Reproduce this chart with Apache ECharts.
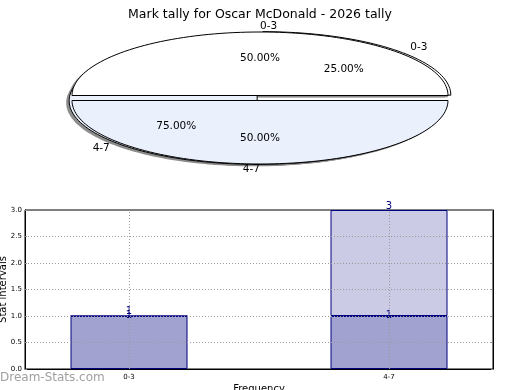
<!DOCTYPE html>
<html>
<head>
<meta charset="utf-8">
<script src="https://cdn.jsdelivr.net/npm/echarts@6/dist/echarts.min.js"></script>
<style>
html,body{margin:0;padding:0;background:#fff;}
#chart{width:520px;height:390px;}
</style>
</head>
<body>
<div id="chart"></div>
<script>
// ---- data ----
const titleText = 'Mark tally for Oscar McDonald - 2026 tally';
const categories = ['0-3', '4-7'];
const seriesLow = [1, 1];      // first stacked series
const seriesHigh = [0, 2];     // second stacked series
const totals = [1, 3];         // stack totals (labels on top)
const yTicks = [0.5, 1.0, 1.5, 2.0, 2.5];
const pieInner = seriesLow;    // pie drawn on top (50% / 50%)
const pieOuter = totals;       // pie drawn underneath (25% / 75%)
const sliceColors = ['#ffffff', '#eaf0fc'];

// bar data: [value, category index] on a numeric x axis
const catIdx = categories.map((c, i) => i);
const lowPairs = seriesLow.map((v, i) => [v, i]);
const highPairs = seriesHigh.map((v, i) => [v, i]);

// ---- pie slices derived from the data ----
function buildSlices(values, pieId) {
  const sum = values.reduce((a, b) => a + b, 0);
  let acc = 0;
  return values.map((v, i) => {
    const s = acc / sum; acc += v;
    return [pieId, i, s, acc / sum, v / sum * 100];
  });
}
const pieData = buildSlices(pieOuter, 0).concat(buildSlices(pieInner, 1));

const CX = 260, CY = 98, RX = 188, RY = 63.5;
const EXPLODE = [4, 2.5];

function sector(cx, cy, a0, a1) {
  const pts = [[cx, cy]];
  const n = Math.max(8, Math.ceil((a1 - a0) / (Math.PI / 90)));
  for (let k = 0; k <= n; k++) {
    const a = a0 + (a1 - a0) * k / n;
    pts.push([cx + RX * Math.cos(a), cy - RY * Math.sin(a)]);
  }
  return pts;
}

function geom(api) {
  const pie = api.value(0), idx = api.value(1);
  const a0 = api.value(2) * 2 * Math.PI, a1 = api.value(3) * 2 * Math.PI;
  const mid = (a0 + a1) / 2;
  const e = EXPLODE[pie];
  const cx = CX + e * Math.cos(mid), cy = CY - e * Math.sin(mid);
  return {pie, idx, a0, a1, mid, cx, cy, pct: api.value(4)};
}

function renderShadow(params, api) {
  const g = geom(api);
  return {
    type: 'polygon',
    shape: {points: sector(g.cx - 3, g.cy + 2, g.a0, g.a1)},
    style: {fill: '#8c8c8c', stroke: null}
  };
}

function renderSlice(params, api) {
  const g = geom(api);
  return {
    type: 'polygon',
    shape: {points: sector(g.cx, g.cy, g.a0, g.a1)},
    style: {fill: sliceColors[g.idx], stroke: '#000', lineWidth: 1}
  };
}

function renderLabels(params, api) {
  const g = geom(api);
  const cosm = Math.cos(g.mid), sinm = Math.sin(g.mid);
  const lx = CX + 1.13 * RX * cosm, ly = CY - 1.13 * RY * sinm;
  const px = CX + 0.63 * RX * cosm, py = CY - 0.63 * RY * sinm;
  return {
    type: 'group',
    children: [
      {
        type: 'text',
        style: {
          text: categories[g.idx], x: lx, y: ly,
          align: cosm > 0 ? 'left' : 'right', verticalAlign: 'middle',
          font: '10.5px "DejaVu Sans"', fill: '#000'
        }
      },
      {
        type: 'text',
        style: {
          text: g.pct.toFixed(2) + '%', x: px, y: py,
          align: 'center', verticalAlign: 'middle',
          font: '10.5px "DejaVu Sans"', fill: '#000'
        }
      }
    ]
  };
}

const gridLineStyle = {type: [1, 2], color: '#9a9a9a', width: 1};

const chart = echarts.init(document.getElementById('chart'), null, {renderer: 'canvas'});
chart.setOption({
  backgroundColor: '#ffffff',
  animation: false,
  textStyle: {fontFamily: 'DejaVu Sans'},
  title: {
    text: titleText, left: 'center', top: 3,
    textStyle: {fontSize: 12.5, fontWeight: 'normal', color: '#000', fontFamily: 'DejaVu Sans'}
  },
  graphic: [{
    type: 'text', left: 0, top: 372,
    style: {text: 'Dream-Stats.com', font: '12px "DejaVu Sans"', fill: '#a0a0a0'}
  }],
  grid: {left: 25, right: 27, top: 210, bottom: 21, show: true, borderColor: '#000', borderWidth: 1,
         containLabel: false, outerBoundsMode: 'none'},
  xAxis: {
    type: 'value', min: -0.4, max: 1.4,
    name: 'Frequency', nameLocation: 'middle', nameGap: 15, nameMoveOverlap: false,
    nameTextStyle: {fontSize: 10, color: '#000'},
    axisLine: {show: true, onZero: false, lineStyle: {color: '#000'}},
    axisTick: {show: true, inside: true, length: 3, lineStyle: {color: '#888'}, customValues: catIdx},
    axisLabel: {fontSize: 7, color: '#000', margin: 5, customValues: catIdx,
                formatter: v => categories[Math.round(v)]},
    splitLine: {show: false}
  },
  yAxis: [{
    type: 'value', min: 0, max: 3, interval: 0.5,
    name: 'Stat intervals', nameLocation: 'middle', nameGap: 17, nameMoveOverlap: false,
    nameTextStyle: {fontSize: 10, color: '#000'},
    axisLine: {show: true, onZero: false, lineStyle: {color: '#000'}},
    axisTick: {show: true, inside: true, length: 2, lineStyle: {color: '#888'}},
    axisLabel: {fontSize: 7, color: '#000', margin: 3, formatter: v => v.toFixed(1)},
    splitLine: {show: false}
  }, {
    type: 'value', min: 0, max: 3, interval: 0.5, position: 'right',
    axisLine: {show: true, onZero: false, lineStyle: {color: '#000'}},
    axisTick: {show: true, inside: true, length: 2, lineStyle: {color: '#888'}},
    axisLabel: {show: false},
    splitLine: {show: false}
  }],
  series: [
    {
      type: 'bar', stack: 'total', data: lowPairs, encode: {x: 1, y: 0}, barWidth: 117,
      itemStyle: {color: '#a2a2d0', borderColor: '#000080', borderWidth: 1},
      label: {show: true, position: 'top', distance: -4, color: '#000080', fontSize: 10,
              formatter: p => String(seriesLow[p.dataIndex])},
      z: 2
    },
    {
      type: 'bar', stack: 'total', data: highPairs, encode: {x: 1, y: 0}, barWidth: 117,
      itemStyle: {color: '#cbcbe5', borderColor: '#000080', borderWidth: 1},
      label: {show: true, position: 'top', distance: -1, color: '#000080', fontSize: 10,
              formatter: p => String(totals[p.dataIndex])},
      z: 2
    },
    {
      type: 'line', data: [], silent: true,
      markLine: {
        silent: true, symbol: 'none', label: {show: false},
        lineStyle: gridLineStyle,
        data: yTicks.map(v => ({yAxis: v})).concat(catIdx.map(i => ({xAxis: i})))
      },
      z: 3
    },
    {type: 'custom', coordinateSystem: 'none', data: pieData, renderItem: renderShadow, silent: true, z: 1},
    {type: 'custom', coordinateSystem: 'none', data: pieData, renderItem: renderSlice, silent: true, z: 2},
    {type: 'custom', coordinateSystem: 'none', data: pieData, renderItem: renderLabels, silent: true, z: 3}
  ]
});
</script>
</body>
</html>
